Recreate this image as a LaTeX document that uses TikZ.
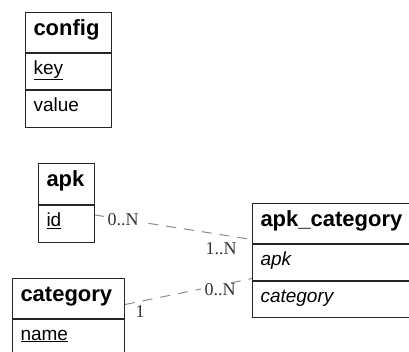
\documentclass[tikz,border=0pt]{standalone}
\usepackage{fontspec}
\setmainfont{Liberation Sans}
\newfontfamily\lblfont{Liberation Serif}
\begin{document}
\begin{tikzpicture}[x=1pt,y=-1pt,
  cell/.style={draw=black!85, line width=1pt, anchor=north west, inner xsep=8pt, inner ysep=0pt,
    align=left, text height=0.75em, text depth=0.25em},
  hdr/.style={cell, font=\bfseries\fontsize{22}{24}\selectfont, minimum height=40pt},
  row/.style={cell, font=\fontsize{19}{21}\selectfont, minimum height=36pt},
  rel/.style={draw=black!45, line width=1pt, dash pattern=on 10pt off 8pt},
  card/.style={font=\lblfont\fontsize{18}{20}\selectfont, fill=white, inner xsep=4pt, inner ysep=1pt, text=black!80}]
\useasboundingbox (0,0) rectangle (409,351);
\clip (0,0) rectangle (409,351);
% config
\node[hdr, text width=70pt] (config) at (25,12) {config};
\node[row, text width=70pt, minimum height=36pt] (configkey) at (config.south west) {\underline{key}};
\node[row, text width=70pt, minimum height=37pt] (configval) at (configkey.south west) {value};
% apk
\node[hdr, text width=40pt, minimum height=41pt] (apk) at (38,163) {apk};
\node[row, text width=40pt, minimum height=37pt] (apkid) at (apk.south west) {\underline{id}};
% category
\node[hdr, text width=96pt] (category) at (12,278) {category};
\node[row, text width=96pt] (catname) at (category.south west) {\underline{name}};
% apk_category
\node[hdr, text width=149pt] (apkcat) at (252,203) {apk\_category};
\node[row, text width=149pt] (apkcatapk) at (apkcat.south west) {\itshape apk};
\node[row, text width=149pt] (apkcatcat) at (apkcatapk.south west) {\itshape category};
% relations
\draw[rel] ([yshift=9pt]apkid.east) -- ([yshift=-16pt]apkcat.east -| apkcat.west);
\draw[rel] ([yshift=-6pt]category.east) -- ([yshift=-16pt]apkcatapk.east -| apkcatapk.west);
\node[card] (c1) at (123,220) {0..N};
\node[card] (c2) at (221,249) {1..N};
\node[card] (c3) at (220,290) {0..N};
\node[card] (c4) at (140,312) {1};
\end{tikzpicture}
\end{document}
